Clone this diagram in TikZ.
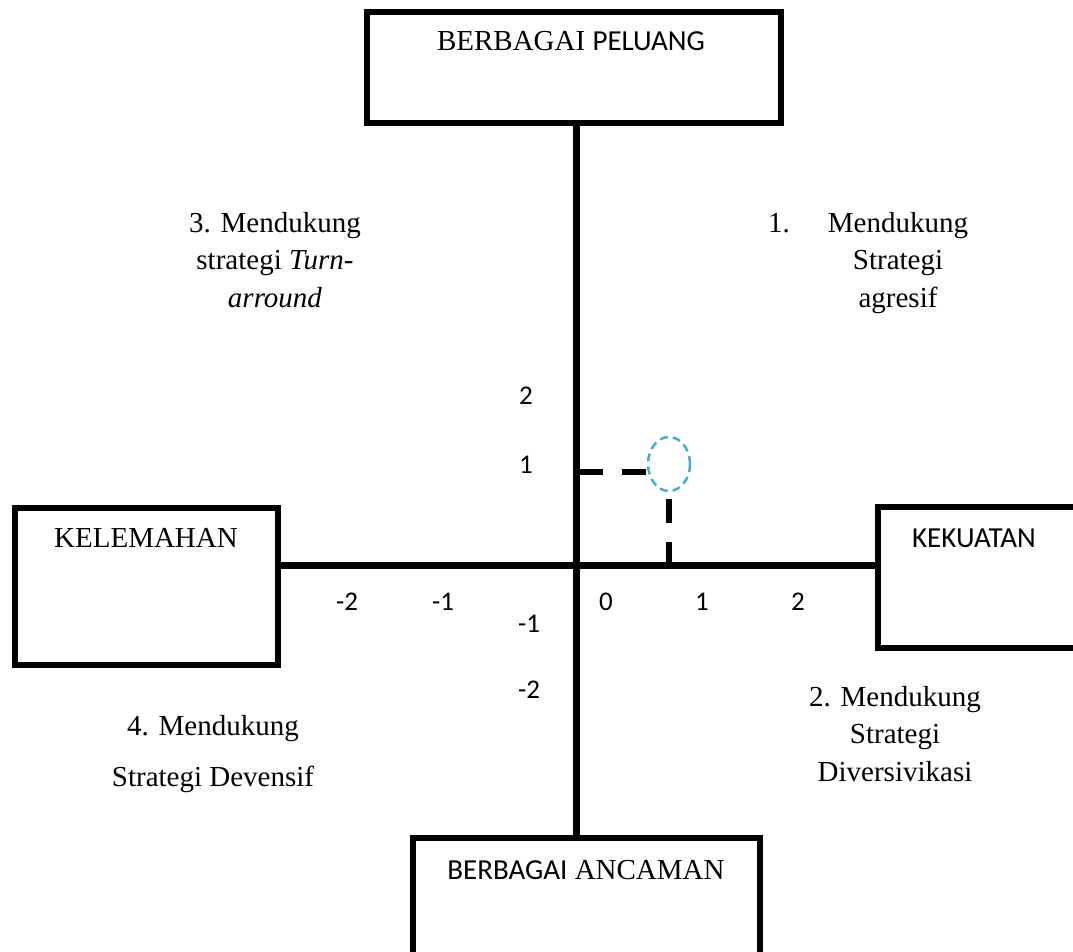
\documentclass[tikz,border=0pt]{standalone}
\usepackage{fontspec}
\setmainfont{Liberation Serif}
\setsansfont{Carlito}
\usetikzlibrary{shapes.geometric}
\definecolor{titikbiru}{RGB}{75,172,198}
\tikzset{
  kotak/.style={draw, line width=6pt, inner sep=0pt},
  sumbu/.style={line width=7pt},
  putus/.style={line width=6.5pt, dash pattern=on 24pt off 19pt},
  teks/.style={font=\fontsize{29}{37.5}\selectfont, align=center, anchor=base, inner sep=0pt},
  angka/.style={font=\sffamily\fontsize{27}{30}\selectfont, inner sep=0pt}
}
\begin{document}
\begin{tikzpicture}[x=1pt,y=-1pt]
    \clip (0,0) rectangle (1073,951);
    \node [kotak, minimum width=414.5pt, minimum height=111pt] (peluang) at (573.75,67.5) {};
    \node [kotak, minimum width=263pt, minimum height=157.5pt] (kelemahan) at (146,586.25) {};
    \node [kotak, minimum width=260pt, minimum height=140.5pt] (kekuatan) at (1007.5,577.25) {};
    \node [kotak, minimum width=347pt, minimum height=162pt] (ancaman) at (586.5,919) {};
    \node [teks] (tpeluang) at (571,50) {BERBAGAI \textsf{PELUANG}};
    \node [teks] (tkelemahan) at (146,547) {KELEMAHAN};
    \node [teks] (tkekuatan) at (974,547) {\sffamily KEKUATAN};
    \node [teks] (tancaman) at (586,879) {\textsf{BERBAGAI} ANCAMAN};
    \coordinate (o) at (576,565.5);
    \draw [sumbu] (o |- peluang.south) -- (o |- ancaman.north);
    \draw [sumbu] (kelemahan.east |- o) -- (kekuatan.west |- o);
    \node [draw=titikbiru, ellipse, line width=2.5pt, dash pattern=on 8pt off 5pt, minimum width=42pt, minimum height=54pt, inner sep=0pt] (titik) at (669,464) {};
    \coordinate (py) at (579,472);
    \draw [putus] (py) -- (py -| titik.west);
    \draw [putus] (titik.south |- o) -- (titik.south);
    \node [angka] (y2) at (526,396) {2};
    \node [angka] (y1) at (526,465) {1};
    \node [angka] (ym1) at (529,624) {-1};
    \node [angka] (ym2) at (529,690) {-2};
    \node [angka] (xm2) at (347,602) {-2};
    \node [angka] (xm1) at (443,602) {-1};
    \node [angka] (x0) at (606,602) {0};
    \node [angka] (x1) at (702,602) {1};
    \node [angka] (x2) at (798,602) {2};
    \node [teks] (kuadran1) at (898,307) {\llap{1.\hspace{38pt}}Mendukung\\Strategi\\agresif};
    \node [teks] (kuadran3) at (275,307) {3. Mendukung\\strategi \textit{Turn-}\\\textit{arround}};
    \node [teks] (kuadran2) at (895,781) {2. Mendukung\\Strategi\\Diversivikasi};
    \node [teks] (kuadran4) at (213,786) {4. Mendukung\\[13.5pt]Strategi Devensif};
\end{tikzpicture}
\end{document}
